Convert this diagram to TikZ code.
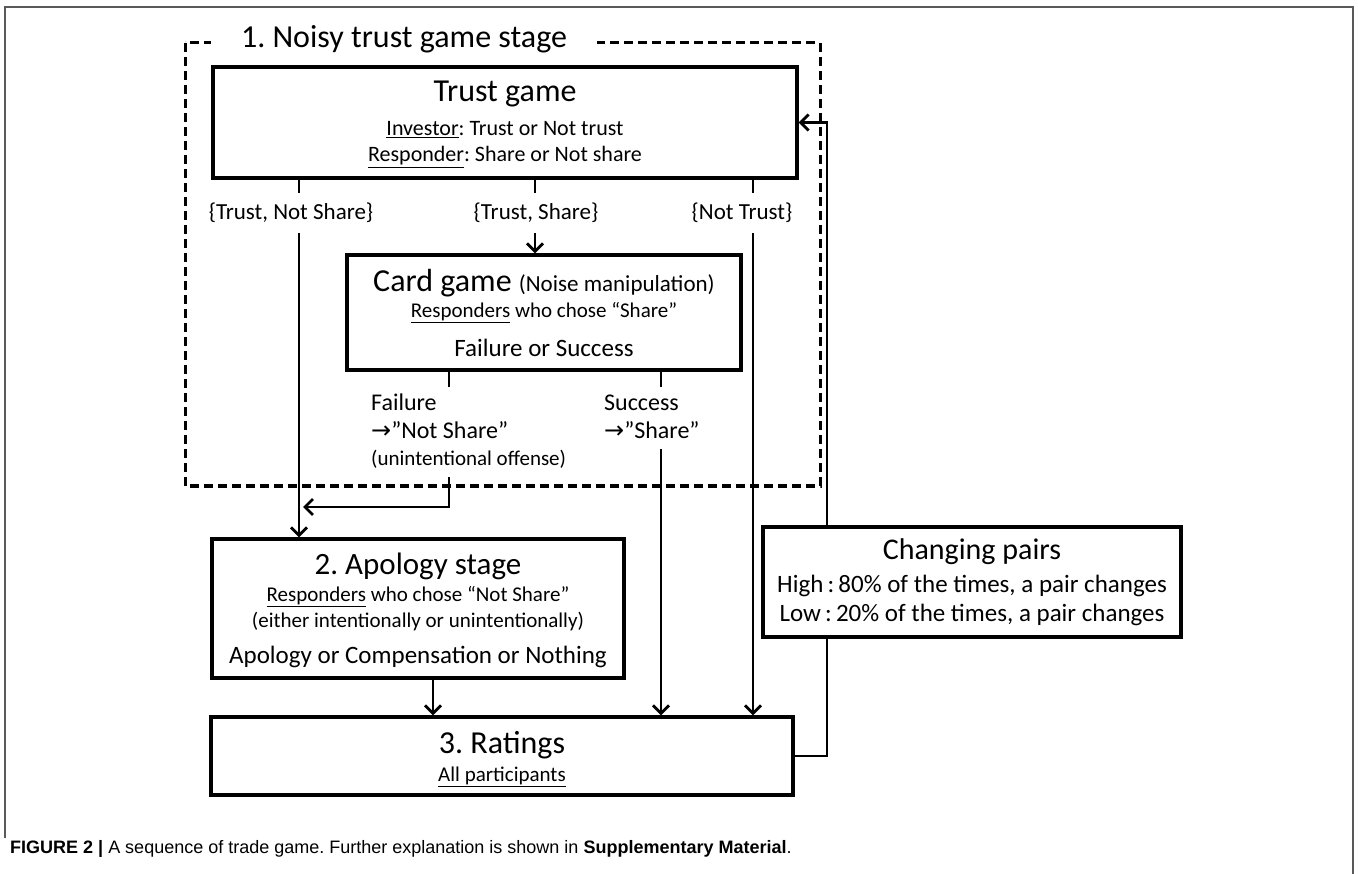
\documentclass[tikz,border=0pt]{standalone}
\usepackage{fontspec}
\setmainfont{Carlito}
\newfontfamily\arrowfont{DejaVu Sans}
\newfontfamily\capfont{Liberation Sans}
\usetikzlibrary{arrows.meta}
\frenchspacing

\newcommand{\setfs}[1]{\fontsize{#1}{#1}\selectfont}
\newcommand{\rarr}{{\arrowfont\char"2192}}

\tikzset{
  box/.style={draw, line width=3.2pt, inner sep=0pt, fill=white},
  txt/.style={inner sep=0pt, align=center},
  link/.style={line width=2.8pt},
  flow/.style={line width=2.8pt, -{Straight Barb[length=8pt,width=16pt]}},
  stage/.style={line width=3pt, dash pattern=on 9pt off 5pt},
}

\begin{document}
\begin{tikzpicture}[x=1pt,y=-1pt]
  \useasboundingbox (0,0) rectangle (1358,874);

  % page frame
  \draw[black!65, line width=1.6pt] (5,838) -- (5,7) -- (1353,7) -- (1353,874);

  % columns of the connectors
  \coordinate (col-ns) at (299,0);
  \coordinate (col-s) at (535,0);
  \coordinate (col-nt) at (753,0);
  \coordinate (col-f) at (449,0);
  \coordinate (col-su) at (661,0);
  \coordinate (col-ap) at (433,0);
  \coordinate (col-back) at (827,0);

  % 1. noisy trust game stage
  \draw[stage] (185,43) rectangle (820,486);
  \node[txt, fill=white, inner xsep=30pt, inner ysep=2pt] (stage-1) at (404,39) {\setfs{32}1. Noisy trust game stage};

  \node[box, minimum width=584pt, minimum height=111pt] (trust) at (505,122.5) {};
  \node[txt] (trust-t) at (505,94) {\setfs{32}Trust game};
  \node[txt] (trust-i) at (505,130) {\setfs{22}\underline{Investor}: Trust or Not trust};
  \node[txt] (trust-r) at (505,157) {\setfs{22}\underline{Responder}: Share or Not share};

  \node[txt] (o-ns) at (291,213) {\setfs{23}\{Trust, Not Share\}};
  \node[txt] (o-s) at (536,213) {\setfs{23}\{Trust, Share\}};
  \node[txt] (o-nt) at (742,213) {\setfs{23}\{Not Trust\}};

  \node[box, minimum width=394pt, minimum height=115pt] (card) at (544,312.5) {};
  \node[txt] (card-t) at (544,283) {\setfs{32}Card game \setfs{23}(Noise manipulation)};
  \node[txt] (card-r) at (544,313) {\setfs{21}\underline{Responders} who chose “Share”};
  \node[txt] (card-o) at (544,348) {\setfs{25}Failure or Success};

  \node[txt, anchor=base west] (fail-1) at (371,411) {\setfs{24}Failure};
  \node[txt, anchor=base west] (fail-2) at (371,439) {\setfs{24}\rarr”Not Share”};
  \node[txt, anchor=base west] (fail-3) at (371,466) {\setfs{21}(unintentional offense)};
  \node[txt, anchor=base west] (succ-1) at (604,411) {\setfs{24}Success};
  \node[txt, anchor=base west] (succ-2) at (604,439) {\setfs{24}\rarr”Share”};
  \coordinate (fail-end) at (303,507);

  % 2. apology stage and 3. ratings
  \node[box, minimum width=412pt, minimum height=139pt] (apology) at (418,608.5) {};
  \node[txt] (apology-t) at (418,566) {\setfs{31}2. Apology stage};
  \node[txt] (apology-r) at (418,597) {\setfs{21}\underline{Responders} who chose “Not Share”};
  \node[txt] (apology-w) at (418,622) {\setfs{21}(either intentionally or unintentionally)};
  \node[txt] (apology-o) at (418,657) {\setfs{25}Apology or Compensation or Nothing};

  \node[box, minimum width=582pt, minimum height=78pt] (ratings) at (502,756) {};
  \node[txt] (ratings-t) at (502,745) {\setfs{32}3. Ratings};
  \node[txt] (ratings-a) at (502,777) {\setfs{21}\underline{All participants}};

  % connectors
  \foreach \col in {col-ns, col-s, col-nt}
    \draw[link] (trust.south -| \col) -- ++(0,13);
  \foreach \col in {col-f, col-su}
    \draw[link] (card.south -| \col) -- ++(0,15);

  \draw[flow] (o-ns.south -| col-ns) ++(0,10) -- (apology.north -| col-ns);
  \draw[flow] (o-s.south -| col-s) ++(0,10) -- (card.north -| col-s);
  \draw[flow] (o-nt.south -| col-nt) ++(0,10) -- (ratings.north -| col-nt);
  \draw[flow] (fail-3.south -| col-f) ++(0,8) |- (fail-end);
  \draw[flow] (succ-2.south -| col-su) ++(0,10) -- (ratings.north -| col-su);
  \draw[flow] (apology.south -| col-ap) -- (ratings.north -| col-ap);
  \draw[flow] (ratings.east) -- (ratings.east -| col-back)
    -- (trust.east -| col-back) -- (trust.east);

  % changing pairs
  \node[box, minimum width=418pt, minimum height=110pt] (pairs) at (972,582) {};
  \node[txt] (pairs-t) at (972,552) {\setfs{30}Changing pairs};
  \node[txt] (pairs-h) at (972,586) {\setfs{25}High\,:\,80\% of the times, a pair changes};
  \node[txt] (pairs-l) at (972,615) {\setfs{25}Low\,:\,20\% of the times, a pair changes};

  % caption
  \node[anchor=west, inner sep=0pt] (caption) at (10,849) {\capfont\setfs{18}\textbf{FIGURE 2 |} A sequence of trade game. Further explanation is shown in \textbf{Supplementary Material}.};
\end{tikzpicture}
\end{document}
